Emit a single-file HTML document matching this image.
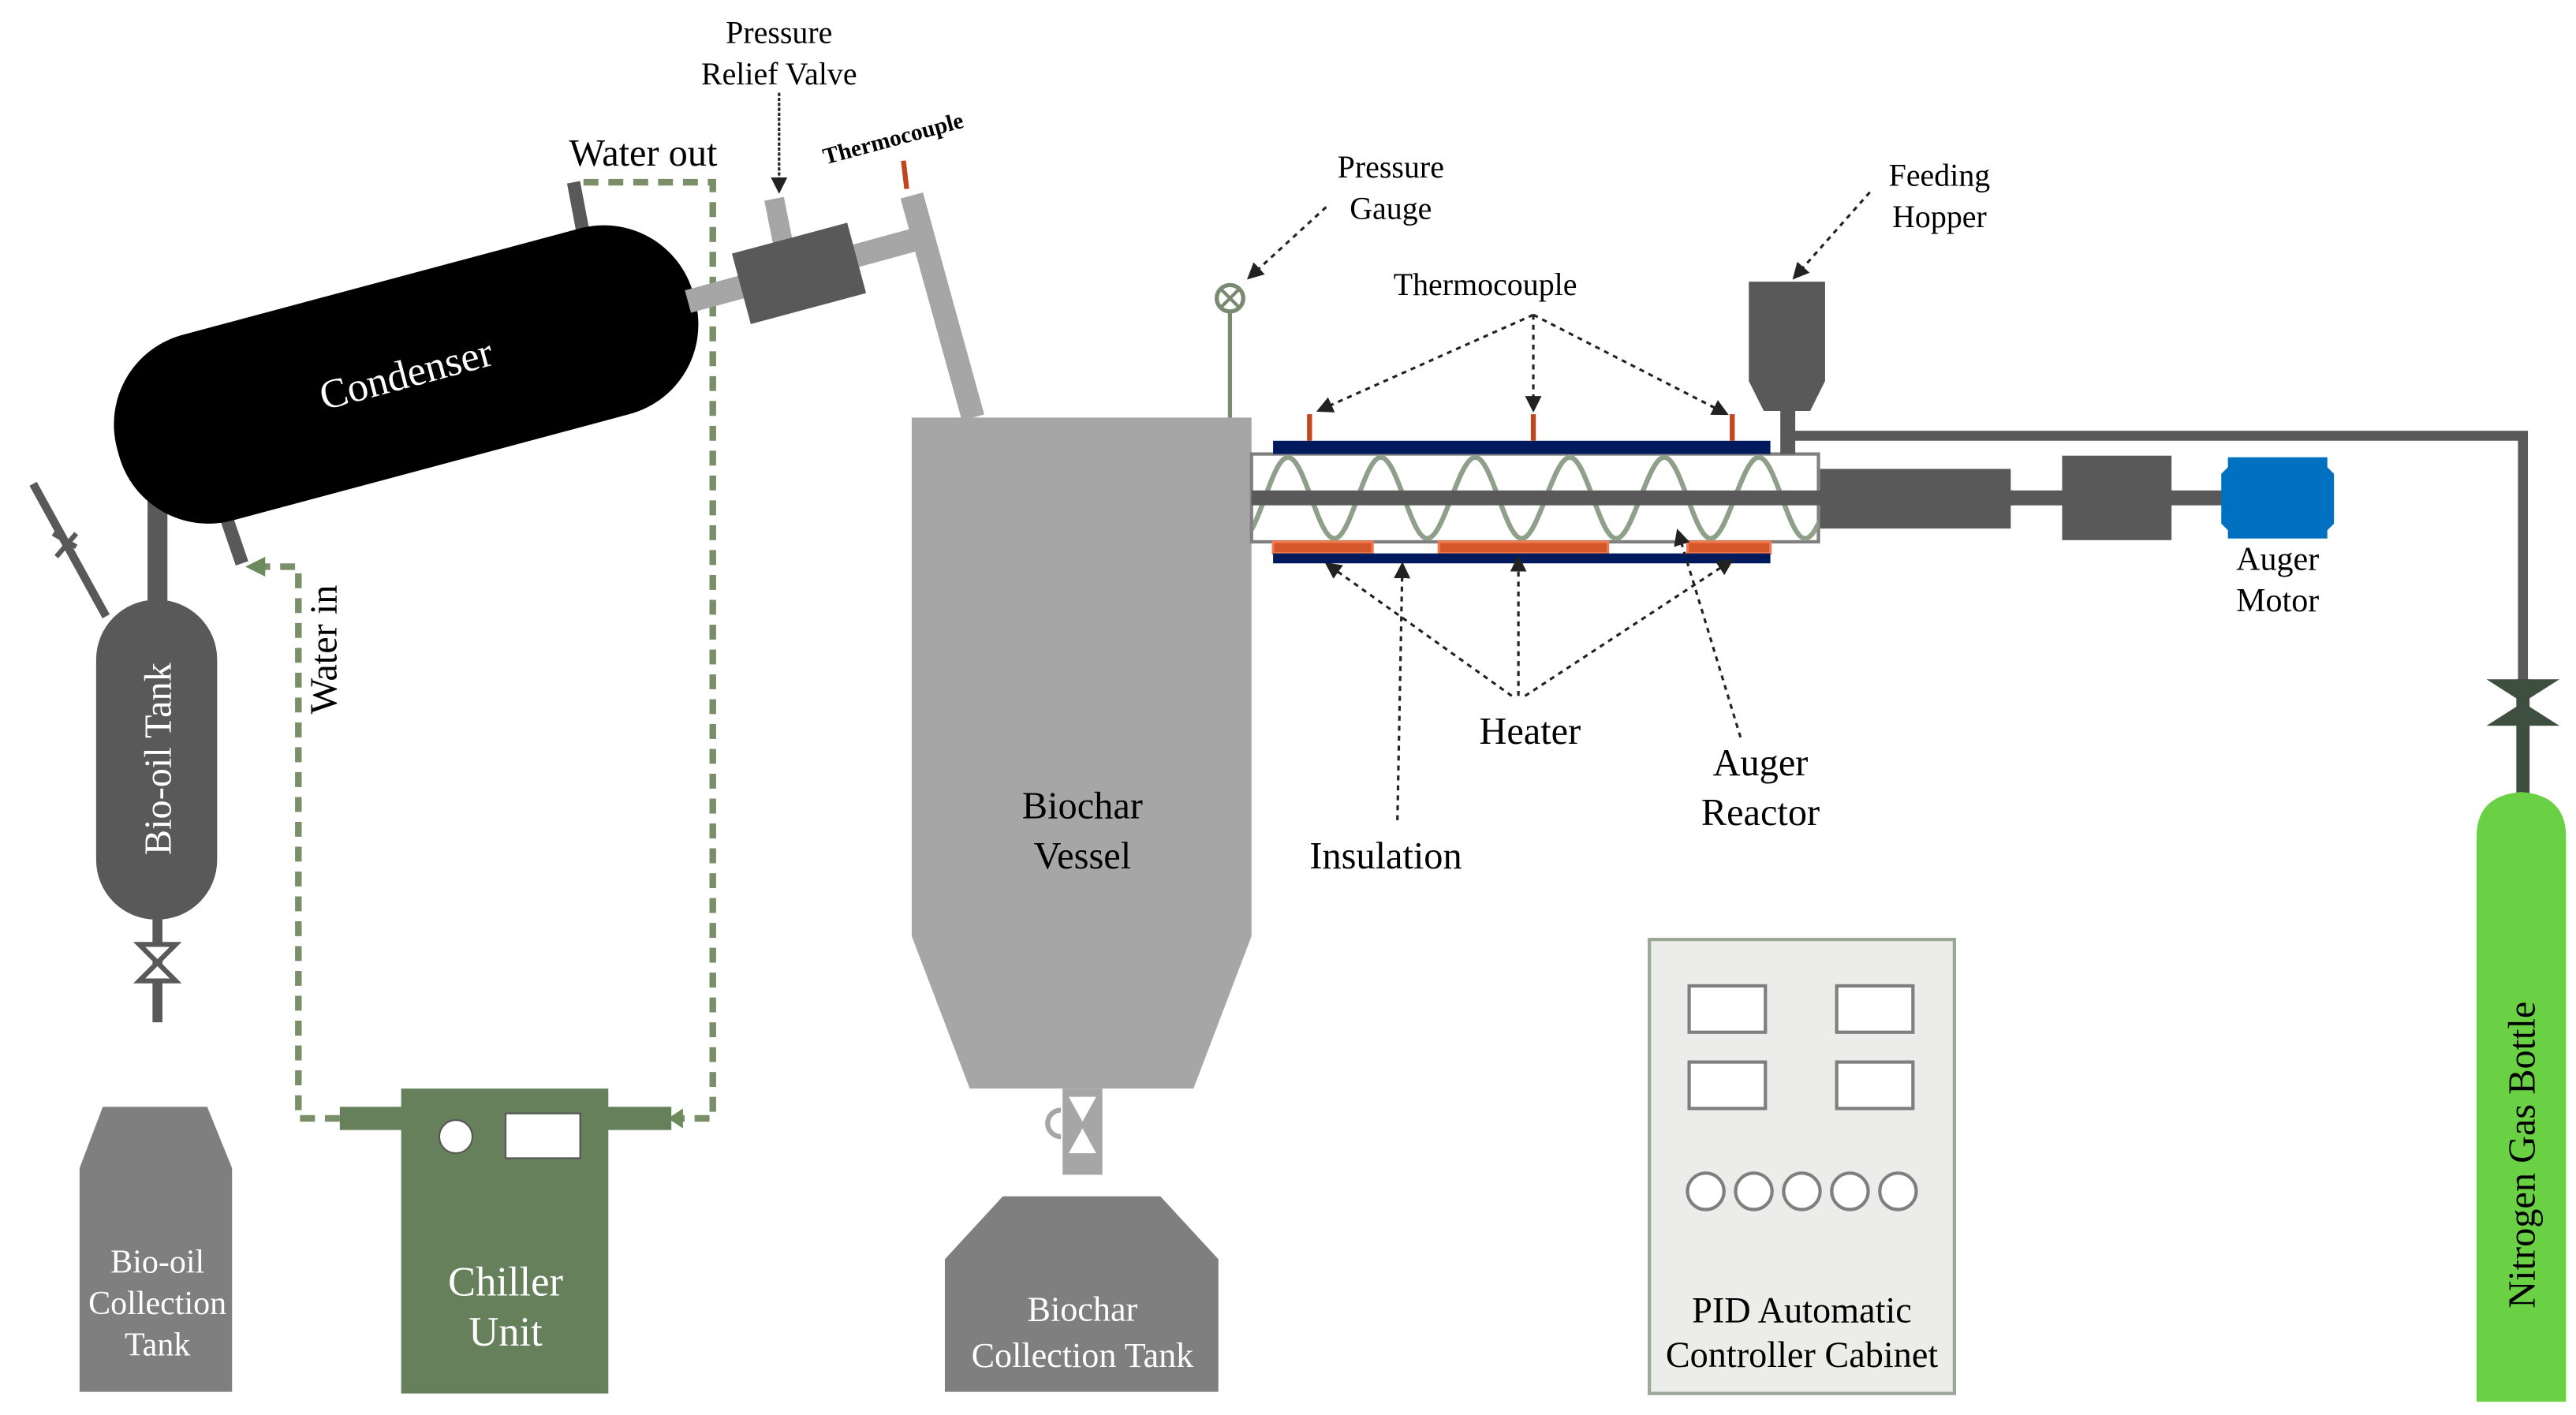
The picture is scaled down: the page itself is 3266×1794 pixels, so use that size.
<!DOCTYPE html>
<html><head><meta charset="utf-8"><style>html,body{margin:0;padding:0;background:#fff}svg{display:block}text{font-family:"Liberation Serif",serif}</style></head>
<body>
<svg width="3266" height="1794" viewBox="0 0 1554 854" preserveAspectRatio="none" xmlns="http://www.w3.org/2000/svg">
<defs>
<marker id="ah" markerWidth="10" markerHeight="10" refX="9" refY="5" orient="auto" markerUnits="userSpaceOnUse"><path d="M0,0 L10,5 L0,10 z" fill="#222"/></marker>
<clipPath id="tube"><rect x="756" y="274" width="341" height="53"/></clipPath>
</defs>
<rect width="1554" height="854" fill="#fff"/>

<!-- water loop -->
<path d="M352,110 L430,110 L430,675 L410,675" fill="none" stroke="#7a8f68" stroke-width="4" stroke-dasharray="9,6"/>
<path d="M205,675 L180,675 L180,342 L155,342" fill="none" stroke="#7a8f68" stroke-width="4" stroke-dasharray="9,6"/>
<path d="M160,336 L148,342 L160,348z" fill="#6d8a5c"/>
<path d="M412,669 L403,675 L412,681z" fill="#6d8a5c"/>
<line x1="346" y1="110" x2="353" y2="147" stroke="#595959" stroke-width="8"/>
<line x1="134" y1="305" x2="146" y2="340" stroke="#595959" stroke-width="8"/>

<!-- bio-oil pipes -->
<line x1="95" y1="290" x2="95" y2="370" stroke="#595959" stroke-width="12"/>
<line x1="20" y1="292" x2="64" y2="372" stroke="#595959" stroke-width="5"/>
<path d="M32,322 L46,330 M34,336 L46,322" stroke="#595959" stroke-width="3"/>
<line x1="95" y1="550" x2="95" y2="617" stroke="#595959" stroke-width="6"/>
<path d="M84,570 L106,570 L84,592 L106,592 z" fill="#fff" stroke="#595959" stroke-width="3"/>
<rect x="58" y="362" width="73" height="193" rx="36" fill="#595959"/>
<text transform="translate(103,458) rotate(-90)" text-anchor="middle" font-size="23" fill="#fff">Bio-oil Tank</text>

<!-- condenser -->
<g transform="translate(245,226) rotate(-15)">
<rect x="-180" y="-58" width="360" height="116" rx="56" fill="#000"/>
<text x="0" y="8" text-anchor="middle" font-size="25" fill="#fff">Condenser</text>
</g>

<!-- pipes right of condenser -->
<line x1="415" y1="182" x2="558" y2="143" stroke="#a6a6a6" stroke-width="14"/>
<line x1="550" y1="118" x2="587" y2="252" stroke="#a6a6a6" stroke-width="14"/>
<line x1="467" y1="120" x2="473" y2="150" stroke="#a6a6a6" stroke-width="12"/>
<g transform="translate(482,165) rotate(-15)"><rect x="-36" y="-22" width="72" height="44" fill="#595959"/></g>
<line x1="545" y1="97" x2="547" y2="114" stroke="#c0461c" stroke-width="3"/>
<text transform="translate(540,88) rotate(-15)" text-anchor="middle" font-size="14" font-weight="bold">Thermocouple</text>
<text x="470" y="26" text-anchor="middle" font-size="19">Pressure</text>
<text x="470" y="51" text-anchor="middle" font-size="19">Relief Valve</text>
<line x1="470" y1="56" x2="470" y2="116" stroke="#222" stroke-width="1.5" stroke-dasharray="2,1" marker-end="url(#ah)"/>

<!-- biochar vessel -->
<path d="M550,252 L755,252 L755,565 L720,657 L585,657 L550,565 z" fill="#a6a6a6"/>
<text x="653" y="494" text-anchor="middle" font-size="23">Biochar</text>
<text x="653" y="524" text-anchor="middle" font-size="23">Vessel</text>
<rect x="641" y="657" width="24" height="52" fill="#a6a6a6"/>
<path d="M643,661 L663,661 L643,697 L663,697 z" fill="#fff" stroke="#a6a6a6" stroke-width="2"/>
<path d="M640,670 a8,8 0 1,0 0,16" fill="none" stroke="#a6a6a6" stroke-width="3"/>
<path d="M605,722 L700,722 L735,760 L735,840 L570,840 L570,760 z" fill="#7f7f7f"/>
<text x="653" y="797" text-anchor="middle" font-size="21" fill="#fff">Biochar</text>
<text x="653" y="825" text-anchor="middle" font-size="21" fill="#fff">Collection Tank</text>

<!-- pressure gauge -->
<line x1="742" y1="189" x2="742" y2="252" stroke="#7a8a70" stroke-width="2.5"/>
<circle cx="742" cy="180" r="8" fill="#fff" stroke="#7a8a70" stroke-width="2.5"/>
<path d="M736,174 L748,186 M748,174 L736,186" stroke="#7a8a70" stroke-width="2"/>
<text x="839" y="107" text-anchor="middle" font-size="19">Pressure</text>
<text x="839" y="132" text-anchor="middle" font-size="19">Gauge</text>
<line x1="800" y1="125" x2="753" y2="168" stroke="#222" stroke-width="1.5" stroke-dasharray="3,3" marker-end="url(#ah)"/>

<!-- reactor -->
<rect x="755" y="274" width="342" height="53" fill="#fff" stroke="#7f7f7f" stroke-width="2"/>
<g clip-path="url(#tube)">
<path fill="none" stroke="#8fa08a" stroke-width="3" d="M692,325 C702,325 710,276 720.5,276 S739,325 749,325 S767,276 777,276 S795,325 805,325 S823,276 833,276 S851,325 861,325 S880,276 890,276 S908,325 918,325 S937,276 947,276 S965,325 975,325 S994,276 1004,276 S1022,325 1032,325 S1051,276 1061,276 S1079,325 1089,325 S1108,276 1118,276"/>
</g>
<rect x="755" y="296" width="460" height="9" fill="#595959"/>
<rect x="768" y="266" width="300" height="8" fill="#001a5e"/>
<rect x="768" y="327" width="60" height="7" fill="#d4562a" stroke="#ef7b4e" stroke-width="1.5"/>
<rect x="868" y="327" width="102" height="7" fill="#d4562a" stroke="#ef7b4e" stroke-width="1.5"/>
<rect x="1018" y="327" width="50" height="7" fill="#d4562a" stroke="#ef7b4e" stroke-width="1.5"/>
<rect x="768" y="334" width="300" height="6" fill="#001a5e"/>
<line x1="790" y1="250" x2="790" y2="266" stroke="#c0461c" stroke-width="3"/>
<line x1="925" y1="250" x2="925" y2="266" stroke="#c0461c" stroke-width="3"/>
<line x1="1045" y1="250" x2="1045" y2="266" stroke="#c0461c" stroke-width="3"/>
<text x="896" y="178" text-anchor="middle" font-size="19">Thermocouple</text>
<g stroke="#222" stroke-width="1.5" stroke-dasharray="3,3" fill="none">
<line x1="925" y1="190" x2="795" y2="248" marker-end="url(#ah)"/>
<line x1="925" y1="190" x2="925" y2="248" marker-end="url(#ah)"/>
<line x1="925" y1="190" x2="1042" y2="250" marker-end="url(#ah)"/>
<line x1="912" y1="420" x2="800" y2="340" marker-end="url(#ah)"/>
<line x1="916" y1="420" x2="916" y2="336" marker-end="url(#ah)"/>
<line x1="920" y1="420" x2="1045" y2="338" marker-end="url(#ah)"/>
<line x1="843" y1="495" x2="846" y2="340" marker-end="url(#ah)"/>
<line x1="1050" y1="445" x2="1012" y2="320" marker-end="url(#ah)"/>
</g>
<text x="923" y="449" text-anchor="middle" font-size="23">Heater</text>
<text x="1062" y="468" text-anchor="middle" font-size="23">Auger</text>
<text x="1062" y="498" text-anchor="middle" font-size="23">Reactor</text>
<text x="836" y="524" text-anchor="middle" font-size="23">Insulation</text>

<!-- hopper and N2 line -->
<path d="M1055,170 L1101,170 L1101,230 L1092,248 L1064,248 L1055,230 z" fill="#595959"/>
<rect x="1074" y="248" width="9" height="26" fill="#595959"/>
<path d="M1080,263 L1522,263 L1522,412" fill="none" stroke="#595959" stroke-width="6"/>
<text x="1170" y="112" text-anchor="middle" font-size="19">Feeding</text>
<text x="1170" y="137" text-anchor="middle" font-size="19">Hopper</text>
<line x1="1128" y1="116" x2="1082" y2="168" stroke="#222" stroke-width="1.5" stroke-dasharray="3,3" marker-end="url(#ah)"/>

<!-- drive -->
<rect x="1098" y="283" width="115" height="36" fill="#595959"/>
<rect x="1213" y="296" width="130" height="9" fill="#595959"/>
<rect x="1244" y="275" width="66" height="51" fill="#595959"/>
<path d="M1344,276 L1404,276 L1404,282 L1408,286 L1408,316 L1404,320 L1404,325 L1344,325 L1344,320 L1340,316 L1340,286 L1344,282 z" fill="#0070c0"/>
<text x="1374" y="344" text-anchor="middle" font-size="20">Auger</text>
<text x="1374" y="369" text-anchor="middle" font-size="20">Motor</text>

<!-- nitrogen -->
<rect x="1518" y="410" width="8" height="72" fill="#3f4f3f"/>
<path d="M1500,410 L1544,410 L1500,438 L1544,438 z" fill="#3f4f3f"/>
<path d="M1494,505 Q1494,480 1521,478 Q1548,480 1548,505 L1548,846 L1494,846 z" fill="#6ad144"/>
<text transform="translate(1529,697) rotate(-90)" text-anchor="middle" font-size="23">Nitrogen Gas Bottle</text>

<!-- PID cabinet -->
<rect x="995" y="567" width="184" height="274" fill="#ecedea" stroke="#9aa895" stroke-width="2"/>
<g fill="#fff" stroke="#7f7f7f" stroke-width="2">
<rect x="1019" y="595" width="46" height="28"/><rect x="1108" y="595" width="46" height="28"/>
<rect x="1019" y="641" width="46" height="28"/><rect x="1108" y="641" width="46" height="28"/>
<circle cx="1029" cy="719" r="11"/><circle cx="1058" cy="719" r="11"/><circle cx="1087" cy="719" r="11"/><circle cx="1116" cy="719" r="11"/><circle cx="1145" cy="719" r="11"/>
</g>
<text x="1087" y="798" text-anchor="middle" font-size="22">PID Automatic</text>
<text x="1087" y="825" text-anchor="middle" font-size="22">Controller Cabinet</text>

<!-- chiller -->
<rect x="205" y="668" width="200" height="14" fill="#66805c"/>
<rect x="242" y="657" width="125" height="184" fill="#66805c"/>
<circle cx="275" cy="686" r="10" fill="#fff" stroke="#555" stroke-width="1"/>
<rect x="305" y="672" width="45" height="27" fill="#fff" stroke="#555" stroke-width="1"/>
<text x="305" y="782" text-anchor="middle" font-size="25" fill="#fff">Chiller</text>
<text x="305" y="812" text-anchor="middle" font-size="25" fill="#fff">Unit</text>

<!-- labels water -->
<text x="388" y="100" text-anchor="middle" font-size="23">Water out</text>
<text transform="translate(203,392) rotate(-90)" text-anchor="middle" font-size="23">Water in</text>

<!-- bio-oil collection -->
<path d="M62,668 L125,668 L140,705 L140,840 L48,840 L48,705 z" fill="#7f7f7f"/>
<text x="95" y="768" text-anchor="middle" font-size="20" fill="#fff">Bio-oil</text>
<text x="95" y="793" text-anchor="middle" font-size="20" fill="#fff">Collection</text>
<text x="95" y="818" text-anchor="middle" font-size="20" fill="#fff">Tank</text>
</svg>
</body></html>
